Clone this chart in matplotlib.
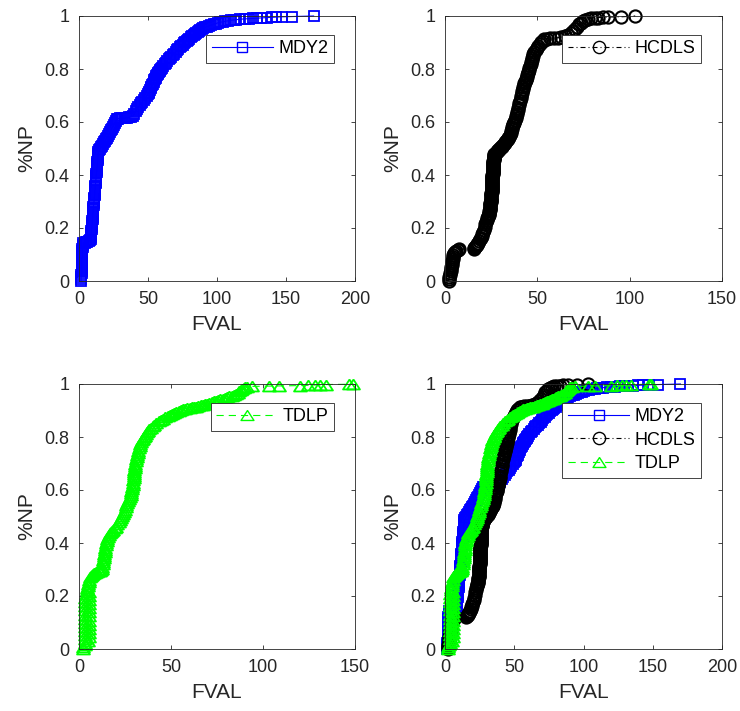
import numpy as np
import matplotlib
matplotlib.use('Agg')
import matplotlib.pyplot as plt

plt.rcParams['font.family'] = ['Liberation Sans', 'DejaVu Sans']

# values: FVAL and fraction of problems (%NP)
mdy2_x = [1.5, 1.5, 1.5, 1.5, 2, 2, 2, 2, 2, 2,
          2, 2, 2.5, 2.5, 2.5, 2.5, 2.5, 3, 3, 3,
          4, 5, 6, 7, 8,
          8.5, 8.6, 8.8, 8.9, 9.0, 9.1, 9.3, 9.4, 9.5, 9.6,
          9.8, 9.9, 10.0, 10.1, 10.3, 10.4, 10.5, 10.6, 10.8, 10.9,
          11.0, 11.1, 11.3, 11.4, 11.5, 11.6, 11.8, 11.9, 12.0, 12.1,
          12.3, 12.4, 12.5, 12.6, 12.8, 12.9, 13.0, 13.1, 13.3, 13.4,
          13.5, 13.6, 13.8, 13.9, 14.0,
          14.7, 15.4, 16.1, 16.8, 17.5, 18.2, 18.9, 19.6, 20.3, 21.0,
          21.7, 22.4, 23.1, 23.8, 24.5, 25.2, 25.9, 26.6, 27.3,
          28.5, 30, 31.5, 33, 34.5, 36, 37.5, 39,
          40, 41, 42, 43, 44, 45, 46, 47, 48, 49, 50,
          50.5, 51, 51.5, 52, 52.5, 53, 53.5, 54, 54.5, 55,
          55.5, 56, 56.5, 57, 57.5, 58, 58.5, 59, 59.5, 60,
          61, 62, 63, 64, 65, 66, 67, 68, 69, 70,
          71, 72, 73, 74, 75, 76, 77, 78, 79, 80,
          81, 82, 83, 84, 85, 86, 87, 88, 89, 90,
          91.5, 93, 94.5, 96, 97.5, 99, 100.5, 102, 104, 106,
          108, 110, 112, 114, 117, 120, 123, 126, 129, 132,
          136, 139.5, 143, 147, 154, 170]
mdy2_y = [0.000, 0.008, 0.015, 0.023, 0.030, 0.038, 0.045, 0.053, 0.060, 0.068,
          0.075, 0.083, 0.090, 0.098, 0.105, 0.113, 0.120, 0.128, 0.135, 0.143,
          0.145, 0.147, 0.149, 0.151, 0.153,
          0.158, 0.165, 0.173, 0.180, 0.188, 0.195, 0.203, 0.210, 0.218, 0.225,
          0.233, 0.240, 0.248, 0.255, 0.263, 0.270, 0.278, 0.285, 0.293, 0.300,
          0.308, 0.315, 0.323, 0.330, 0.338, 0.345, 0.353, 0.360, 0.368, 0.375,
          0.383, 0.390, 0.398, 0.405, 0.413, 0.420, 0.428, 0.435, 0.443, 0.450,
          0.458, 0.465, 0.473, 0.480, 0.487,
          0.493, 0.499, 0.505, 0.511, 0.517, 0.523, 0.529, 0.535, 0.541, 0.547,
          0.554, 0.561, 0.568, 0.575, 0.582, 0.589, 0.596, 0.603, 0.610,
          0.613, 0.614, 0.615, 0.615, 0.616, 0.617, 0.619, 0.622,
          0.630, 0.640, 0.650, 0.657, 0.664, 0.670, 0.677, 0.684, 0.690, 0.698, 0.706,
          0.710, 0.715, 0.721, 0.727, 0.733, 0.739, 0.745, 0.751, 0.757, 0.762,
          0.767, 0.772, 0.777, 0.782, 0.786, 0.790, 0.794, 0.797, 0.800, 0.804,
          0.810, 0.817, 0.824, 0.831, 0.837, 0.842, 0.847, 0.852, 0.858, 0.865,
          0.871, 0.877, 0.882, 0.887, 0.892, 0.897, 0.901, 0.905, 0.910, 0.915,
          0.919, 0.923, 0.927, 0.931, 0.935, 0.939, 0.943, 0.947, 0.951, 0.954,
          0.957, 0.960, 0.963, 0.966, 0.969, 0.971, 0.974, 0.976, 0.978, 0.980,
          0.982, 0.984, 0.985, 0.986, 0.988, 0.989, 0.990, 0.991, 0.992, 0.993,
          0.994, 0.995, 0.996, 0.997, 0.998, 1.000]

hcdls_x = [2, 2.2, 2.4, 2.6, 2.8, 3, 3.2, 3.4, 3.6, 3.8, 4, 4.2, 4.4, 4.6,
           5, 5.6, 6.2, 6.8, 7.4,
           15.5, 15.9, 16.3, 16.7, 17.1, 17.5, 18, 18.5, 19, 19.4,
           19.8, 20.2, 20.6, 21, 21.4, 21.8, 22.2, 22.6,
           23.0, 23.2, 23.4, 23.6, 23.8, 23.9, 24.0, 24.1, 24.2, 24.3,
           24.4, 24.5, 24.6, 24.6, 24.7, 24.8, 24.8, 24.9, 24.9, 25.0,
           25.0, 25.1, 25.1, 25.2, 25.2, 25.2, 25.3, 25.3, 25.3, 25.4,
           25.4, 25.4, 25.5, 25.5, 25.5, 25.6, 25.6, 25.6, 25.7, 25.7,
           25.7, 25.8, 25.8, 25.8, 25.9, 25.9, 25.9, 26.0, 26.0, 26.0,
           26.1, 26.1, 26.1, 26.2, 26.2, 26.3, 26.3, 26.4, 26.4, 26.5,
           26.6, 26.7, 26.8,
           27.1, 27.5, 27.9, 28.3, 28.7, 29.1, 29.5, 29.9, 30.3, 30.7,
           31.1, 31.5, 31.9, 32.3, 32.7, 33.1, 33.5, 33.9, 34.3, 34.7, 35.1,
           35.5, 35.8, 36.1, 36.4, 36.7, 37, 37.3, 37.6, 37.9, 38.2,
           38.5, 38.8, 39.1, 39.4, 39.7, 40, 40.3, 40.6, 40.9, 41.2,
           41.5, 41.8, 42.1, 42.4, 42.7, 43, 43.3, 43.6, 43.9, 44.2,
           44.5, 44.8, 45.1, 45.4, 45.7, 46, 46.3, 46.6, 46.9, 47.2,
           47.5, 47.8,
           48.4, 49.1, 49.8, 50.5, 51.2, 52, 52.8, 53.8, 55,
           57, 59, 61, 63, 65, 66.5, 68, 69.5, 70.5, 71.5,
           72.5, 73.5, 74.5, 76, 77.5, 79, 81, 83, 85.5, 88.5,
           95.5, 103]
hcdls_y = [0.000, 0.008, 0.015, 0.022, 0.030, 0.037, 0.045, 0.052, 0.060, 0.067, 0.075, 0.082, 0.090, 0.097,
           0.104, 0.109, 0.113, 0.117, 0.120,
           0.120, 0.124, 0.128, 0.132, 0.136, 0.140, 0.145, 0.151, 0.157, 0.163,
           0.170, 0.177, 0.185, 0.194, 0.204, 0.215, 0.222, 0.229,
           0.236, 0.240, 0.245, 0.249, 0.254, 0.258, 0.263, 0.267, 0.272, 0.276,
           0.281, 0.285, 0.290, 0.294, 0.299, 0.303, 0.307, 0.311, 0.315, 0.319,
           0.323, 0.327, 0.331, 0.335, 0.339, 0.343, 0.347, 0.351, 0.355, 0.359,
           0.362, 0.366, 0.370, 0.374, 0.377, 0.381, 0.385, 0.389, 0.392, 0.396,
           0.400, 0.404, 0.407, 0.411, 0.415, 0.419, 0.422, 0.426, 0.430, 0.434,
           0.437, 0.441, 0.445, 0.449, 0.452, 0.456, 0.459, 0.463, 0.466, 0.469,
           0.472, 0.475, 0.478,
           0.481, 0.484, 0.487, 0.490, 0.493, 0.496, 0.499, 0.502, 0.504, 0.507,
           0.510, 0.513, 0.516, 0.520, 0.524, 0.528, 0.532, 0.536, 0.540, 0.545, 0.551,
           0.560, 0.567, 0.574, 0.581, 0.588, 0.593, 0.597, 0.601, 0.606, 0.614,
           0.622, 0.630, 0.638, 0.646, 0.654, 0.663, 0.672, 0.681, 0.690, 0.699,
           0.708, 0.717, 0.725, 0.733, 0.740, 0.746, 0.752, 0.758, 0.764, 0.770,
           0.777, 0.784, 0.790, 0.797, 0.805, 0.812, 0.820, 0.827, 0.835, 0.842,
           0.850, 0.857,
           0.865, 0.873, 0.881, 0.888, 0.896, 0.902, 0.907, 0.912, 0.915,
           0.916, 0.917, 0.918, 0.920, 0.924, 0.929, 0.936, 0.944, 0.952, 0.960,
           0.968, 0.975, 0.981, 0.986, 0.990, 0.992, 0.993, 0.994, 0.995, 0.996,
           0.997, 1.000]

tdlp_x = [2.0, 2.4, 3.0, 3.5, 5.0, 3.3, 5.6, 3.3, 5.6, 3.3,
          5.6, 3.3, 5.6, 3.3, 5.6, 3.3, 5.6, 3.3, 5.6, 3.3,
          5.6, 3.4, 5.7, 3.4, 5.7, 3.5, 5.7, 3.6, 5.7,
          4.2, 4.5, 4.8, 5.1, 5.4, 5.7, 6, 6.5, 7, 7.6,
          8.2, 8.8, 9.4, 10, 10.6, 11.2, 11.8, 12.4,
          12.6, 12.8, 13, 13.2, 13.4, 13.6, 13.8, 14, 14.2, 14.4, 14.6, 14.8, 15, 15.3,
          15.7, 16.3, 16.9, 17.5, 18.1, 18.7, 19.4, 20.1, 20.8, 21.5, 22.2,
          22.8, 23.3, 23.8, 24.3, 24.8, 25.3, 25.8, 26.3, 26.8, 27.2, 27.6, 28,
          28.3, 28.5, 28.7, 28.9, 29.1, 29.3, 29.5, 29.7, 29.8, 29.9,
          30, 30.1, 30.2, 30.4, 30.6, 30.8, 31, 31.3, 31.6, 31.9, 32.2,
          32.6, 33, 33.4, 33.8, 34.2, 34.7, 35.2, 35.7, 36.3, 36.9,
          37.6, 38.3, 39.1, 40, 41, 42.1,
          43.3, 44.5, 45.7, 46.9, 48.1, 49.3, 50.5, 51.7, 52.9, 54.1,
          55.3, 56.5, 57.7, 58.9, 60.1, 61.3, 62.5, 63.7, 64.9, 66.1,
          67.3, 68.5, 69.7, 70.9, 72.1, 73.3, 74.5, 75.7, 76.9, 78.1,
          79.3, 80.5, 81.7, 82.9, 84.1, 85.3, 86.3, 87.2, 88, 88.8,
          89.5, 90.2,
          91.5, 94, 103, 108.5, 120, 124.5, 128, 131, 134.5, 147, 149]
tdlp_y = [0.000, 0.008, 0.015, 0.023, 0.031, 0.038, 0.046, 0.054, 0.061, 0.069,
          0.077, 0.084, 0.092, 0.100, 0.107, 0.115, 0.123, 0.130, 0.138, 0.146,
          0.153, 0.161, 0.169, 0.176, 0.184, 0.192, 0.199, 0.207, 0.215,
          0.222, 0.230, 0.238, 0.246, 0.254, 0.262, 0.270, 0.276, 0.280, 0.283,
          0.285, 0.287, 0.289, 0.291, 0.293, 0.296, 0.299, 0.303,
          0.311, 0.319, 0.327, 0.335, 0.343, 0.351, 0.359, 0.367, 0.375, 0.383, 0.391, 0.399, 0.407, 0.415,
          0.423, 0.430, 0.436, 0.441, 0.445, 0.449, 0.455, 0.462, 0.470, 0.478, 0.486,
          0.494, 0.502, 0.510, 0.518, 0.526, 0.534, 0.542, 0.550, 0.558, 0.565, 0.572, 0.580,
          0.588, 0.596, 0.604, 0.612, 0.620, 0.628, 0.636, 0.644, 0.652, 0.660,
          0.668, 0.676, 0.684, 0.692, 0.700, 0.708, 0.716, 0.724, 0.732, 0.740, 0.748,
          0.758, 0.766, 0.773, 0.780, 0.787, 0.793, 0.799, 0.805, 0.811, 0.817,
          0.823, 0.829, 0.835, 0.841, 0.847, 0.852,
          0.859, 0.864, 0.869, 0.874, 0.878, 0.882, 0.886, 0.890, 0.894, 0.898,
          0.901, 0.904, 0.907, 0.909, 0.911, 0.913, 0.914, 0.915, 0.917, 0.919,
          0.921, 0.923, 0.925, 0.928, 0.931, 0.934, 0.937, 0.940, 0.943, 0.945,
          0.948, 0.950, 0.953, 0.956, 0.959, 0.963, 0.967, 0.972, 0.977, 0.981,
          0.985, 0.988,
          0.990, 0.991, 0.992, 0.993, 0.994, 0.995, 0.996, 0.997, 0.998, 0.999, 1.000]

yticks = [0, 0.2, 0.4, 0.6, 0.8, 1]
ytick_labels = ['0', '0.2', '0.4', '0.6', '0.8', '1']

dark = '#262626'

# MATLAB-like triangle: wider than tall
tri = [(0, 0.77), (-1, -0.77), (1, -0.77), (0, 0.77)]

styles = {
    'MDY2': dict(color='#0000ff', ls='-', dashes=None, marker='s', ms=7.2, mew=1.3),
    'HCDLS': dict(color='#000000', ls='-.', dashes=[4.5, 2.7, 0.9, 2.7], marker='o', ms=8.8, mew=1.5),
    'TDLP': dict(color='#00ff00', ls='--', dashes=[6.5, 4.5], marker=tri, ms=9.3, mew=1.3),
}
series = {'MDY2': (mdy2_x, mdy2_y), 'HCDLS': (hcdls_x, hcdls_y), 'TDLP': (tdlp_x, tdlp_y)}

fig = plt.figure(figsize=(7.4, 7.11), dpi=100)

W, H = 740.0, 711.0
panels = [
    ((79, 355, 16, 281), ['MDY2'], 200),
    ((445, 722, 16, 281), ['HCDLS'], 150),
    ((79, 355, 384, 649), ['TDLP'], 150),
    ((445, 722, 384, 649), ['MDY2', 'HCDLS', 'TDLP'], 200),
]

for (x0, x1, y0, y1), names, xmax in panels:
    ax = fig.add_axes([x0 / W, 1 - y1 / H, (x1 - x0) / W, (y1 - y0) / H])
    for name in names:
        st = styles[name]
        xs, ys = series[name]
        line, = ax.plot(xs, ys, linestyle=st['ls'], color=st['color'], marker=st['marker'],
                        markersize=st['ms'], markerfacecolor='none', markeredgewidth=st['mew'],
                        linewidth=0.8, label=name, clip_on=False)
        if st['dashes']:
            line.set_dashes(st['dashes'])
    ax.set_xlim(0, xmax)
    ax.set_ylim(0, 1)
    ax.set_xticks(np.arange(0, xmax + 1, 50))
    ax.set_yticks(yticks)
    ax.set_yticklabels(ytick_labels)
    ax.tick_params(direction='in', top=True, right=True, length=3, width=0.6,
                   color=dark, labelcolor=dark, labelsize=13, pad=7)
    for sp in ax.spines.values():
        sp.set_color(dark)
        sp.set_linewidth(0.6)
    ax.set_xlabel('FVAL', fontsize=15, color=dark, labelpad=5)
    ax.set_ylabel('%NP', fontsize=15, color=dark, labelpad=6)
    leg = ax.legend(loc='upper right', bbox_to_anchor=(0.924, 0.928), fontsize=13,
                    handlelength=3.4, handletextpad=0.3, borderpad=0.3, borderaxespad=0,
                    labelspacing=0.35, fancybox=False, framealpha=1, numpoints=1)
    leg.get_frame().set_edgecolor(dark)
    leg.get_frame().set_linewidth(0.6)
    for lh in leg.get_lines():
        lh.set_markeredgewidth(1.0)

fig.savefig('out.png', dpi=100)
